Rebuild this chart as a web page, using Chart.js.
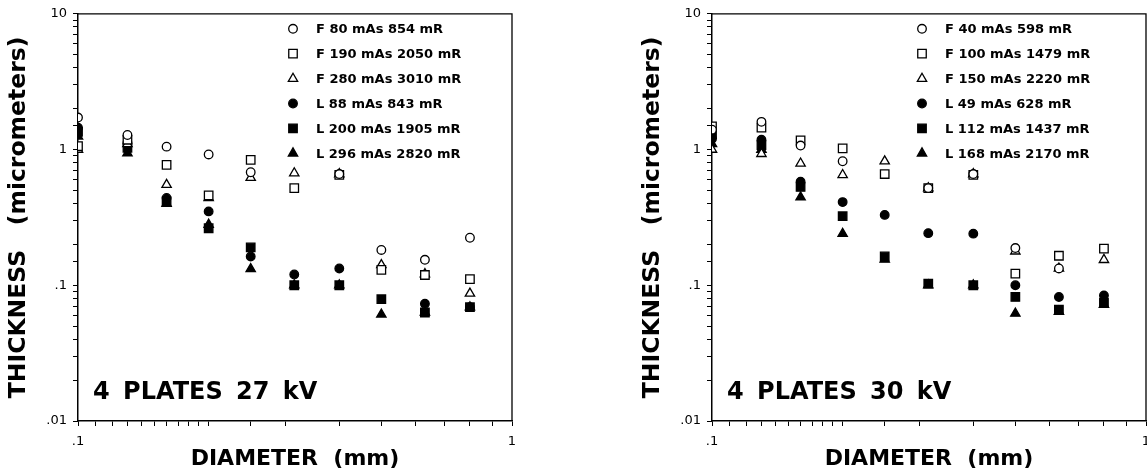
<!DOCTYPE html>
<html>
<head>
<meta charset="utf-8">
<script src="https://cdn.jsdelivr.net/npm/chart.js@4.4.1/dist/chart.umd.min.js"></script>
<style>
  html, body { margin: 0; padding: 0; background: #fff; }
  #wrap { position: relative; width: 1147px; height: 474px; overflow: hidden; }
  canvas { position: absolute; top: 0; }
  #left { left: 0; }
  #right { left: 634px; }
</style>
</head>
<body>
<div id="wrap">
  <canvas id="left" width="560" height="474"></canvas>
  <canvas id="right" width="533" height="474"></canvas>
</div>
<script>
// diameters (mm) shared by both panels
const diameters = [0.1, 0.13, 0.16, 0.2, 0.25, 0.315, 0.4, 0.5, 0.63, 0.8];

// 27 kV panel
const labels27 = ['F 80 mAs 854 mR', 'F 190 mAs 2050 mR', 'F 280 mAs 3010 mR',
                  'L 88 mAs 843 mR', 'L 200 mAs 1905 mR', 'L 296 mAs 2820 mR'];
const f80  = [1.72, 1.28, 1.05, 0.92, 0.68, null, 0.66, 0.182, 0.154, 0.224];
const f190 = [1.06, 1.18, 0.77, 0.46, 0.84, 0.52, 0.65, 0.130, 0.119, 0.111];
const f280 = [1.00, 1.10, 0.55, 0.44, 0.62, 0.67, 0.66, 0.141, 0.121, 0.087];
const l88  = [1.45, 1.12, 0.44, 0.35, 0.163, 0.12, 0.133, null, 0.073, 0.069];
const l200 = [1.35, 1.03, 0.415, 0.263, 0.19, 0.10, 0.10, 0.079, 0.063, 0.069];
const l296 = [1.25, 0.94, 0.40, 0.28, 0.132, 0.10, 0.10, 0.061, 0.063, 0.069];

// 30 kV panel
const labels30 = ['F 40 mAs 598 mR', 'F 100 mAs 1479 mR', 'F 150 mAs 2220 mR',
                  'L 49 mAs 628 mR', 'L 112 mAs 1437 mR', 'L 168 mAs 2170 mR'];
const f40  = [1.40, 1.60, 1.07, 0.82, null, 0.52, 0.66, 0.188, 0.133, null];
const f100 = [1.48, 1.45, 1.17, 1.02, 0.66, 0.52, 0.65, 0.122, 0.165, 0.186];
const f150 = [1.00, 0.93, 0.79, 0.65, 0.82, 0.52, 0.66, 0.178, 0.133, 0.154];
const l49  = [1.20, 1.18, 0.58, 0.41, 0.33, 0.242, 0.24, 0.10, 0.082, 0.084];
const l112 = [1.30, 1.08, 0.53, 0.323, 0.163, 0.103, 0.10, 0.082, 0.066, 0.074];
const l168 = [1.10, 1.00, 0.445, 0.24, 0.155, 0.10, 0.10, 0.062, 0.064, 0.072];

const yMajor = [0.01, 0.1, 1, 10];
const xMajor = [0.1, 1];

// marker look, same order for both panels
const shapes = ['circle', 'rect', 'triangle', 'circle', 'rect', 'triangle'];
const filled = [false, false, false, true, true, true];
const radii = { circle: 4.3, rect: 6.0, triangle: 5.4 };

const FONT = '"DejaVu Sans", "Liberation Sans", Arial, sans-serif';

function fmt(v) {
  if (v >= 1) return String(v);
  return String(v).replace(/^0/, '');
}

function isMajor(v, list) {
  return list.some(m => Math.abs(v - m) / m < 1e-6);
}

function makeDatasets(labels, series) {
  return series.map((vals, i) => ({
    label: labels[i],
    data: diameters.map((d, j) => ({ x: d, y: vals[j] })),
    pointStyle: shapes[i],
    pointRadius: radii[shapes[i]],
    pointHoverRadius: radii[shapes[i]],
    pointBorderWidth: 1.3,
    borderColor: '#000',
    backgroundColor: filled[i] ? '#000' : '#fff',
    showLine: false
  }));
}

// frame on top/right, panel caption and in-plot legend
const panelPlugin = {
  id: 'panel',
  afterDraw(chart, args, opts) {
    const { ctx, chartArea: a } = chart;
    ctx.save();
    ctx.strokeStyle = '#000';
    ctx.lineWidth = 1.3;
    ctx.beginPath();
    ctx.moveTo(a.left, a.top);
    ctx.lineTo(a.right, a.top);
    ctx.lineTo(a.right, a.bottom);
    ctx.stroke();

    // caption
    ctx.fillStyle = '#000';
    ctx.font = 'bold 24px ' + FONT;
    ctx.textBaseline = 'alphabetic';
    ctx.textAlign = 'left';
    ctx.wordSpacing = '5px';
    ctx.fillText(opts.caption, a.left + 15, a.bottom - 22);
    ctx.wordSpacing = '0px';

    // legend
    ctx.font = 'bold 13px ' + FONT;
    ctx.textBaseline = 'middle';
    chart.data.datasets.forEach((ds, i) => {
      const y = a.top + opts.legendTop + i * opts.legendGap;
      const x = a.left + opts.legendX;
      ctx.fillStyle = ds.backgroundColor;
      ctx.strokeStyle = '#000';
      ctx.lineWidth = 1.3;
      Chart.helpers.drawPoint(ctx, {
        pointStyle: ds.pointStyle, radius: ds.pointRadius, rotation: 0, borderWidth: 1.3
      }, x, y);
      ctx.fillStyle = '#000';
      ctx.fillText(ds.label, x + 23, y + 1);
    });
    ctx.restore();
  }
};

function makeChart(id, labels, series, caption, rightPad, legendX) {
  return new Chart(document.getElementById(id), {
    type: 'scatter',
    data: { datasets: makeDatasets(labels, series) },
    plugins: [panelPlugin],
    options: {
      responsive: false,
      animation: false,
      layout: { padding: { left: 0, right: rightPad, top: 13, bottom: 0 } },
      plugins: {
        legend: { display: false },
        tooltip: { enabled: false },
        panel: { caption: caption, legendTop: 15, legendGap: 24.9, legendX: legendX }
      },
      scales: {
        x: {
          type: 'logarithmic',
          min: 0.1, max: 1,
          afterFit(s) { s.height = 53; },
          border: { display: true, color: '#000', width: 1.5 },
          grid: { drawOnChartArea: false, drawTicks: true, tickLength: 5, color: '#000' },
          ticks: {
            autoSkip: false, maxRotation: 0, padding: 8, color: '#000',
            font: { family: FONT, size: 13 },
            callback: v => isMajor(v, xMajor) ? fmt(v) : ''
          },
          title: {
            display: true, text: 'DIAMETER  (mm)', color: '#000',
            padding: { top: 0, bottom: 2 },
            font: { family: FONT, size: 22, weight: 'bold' }
          }
        },
        y: {
          type: 'logarithmic',
          min: 0.01, max: 10,
          afterFit(s) { s.width = 78; },
          border: { display: true, color: '#000', width: 1.5 },
          grid: { drawOnChartArea: false, drawTicks: true, tickLength: 5, color: '#000' },
          ticks: {
            autoSkip: false, padding: 6, color: '#000',
            font: { family: FONT, size: 13 },
            callback: v => isMajor(v, yMajor) ? fmt(v) : ''
          },
          title: {
            display: true, text: 'THICKNESS   (micrometers)', color: '#000',
            padding: { top: 5, bottom: 0 },
            font: { family: FONT, size: 23.5, weight: 'bold' }
          }
        }
      }
    }
  });
}

makeChart('left', labels27, [f80, f190, f280, l88, l200, l296], '4 PLATES 27 kV', 48, 215);
makeChart('right', labels30, [f40, f100, f150, l49, l112, l168], '4 PLATES 30 kV', 21, 210);
</script>
</body>
</html>
